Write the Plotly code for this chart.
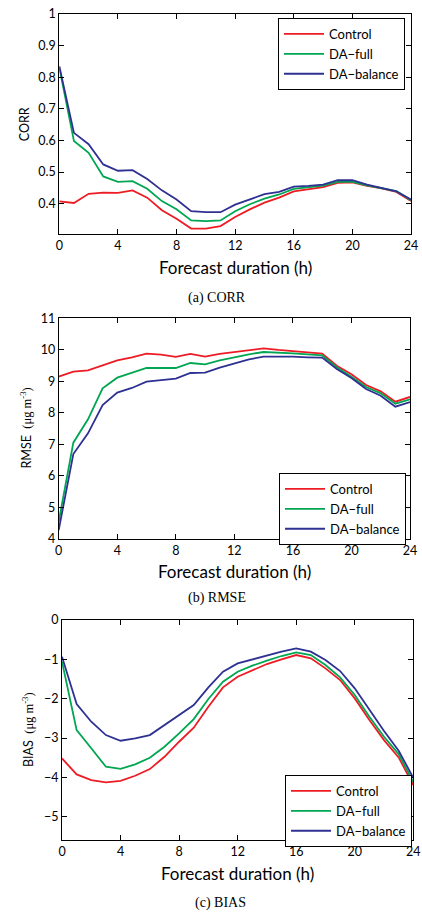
import plotly.graph_objects as go

hours = list(range(25))
x_ticks = [0, 4, 8, 12, 16, 20, 24]

corr_control = [0.407, 0.402, 0.431, 0.435, 0.434, 0.442, 0.419, 0.379, 0.352, 0.321, 0.321, 0.329, 0.358,
                0.382, 0.403, 0.419, 0.439, 0.445, 0.452, 0.466, 0.467, 0.456, 0.448, 0.437, 0.408]
corr_full = [0.831, 0.598, 0.561, 0.486, 0.469, 0.471, 0.447, 0.408, 0.382, 0.347, 0.345, 0.347, 0.376,
             0.398, 0.416, 0.429, 0.447, 0.451, 0.457, 0.469, 0.469, 0.458, 0.450, 0.440, 0.411]
corr_balance = [0.835, 0.624, 0.588, 0.524, 0.504, 0.506, 0.478, 0.442, 0.413, 0.376, 0.373, 0.373, 0.397,
                0.413, 0.430, 0.437, 0.454, 0.456, 0.460, 0.474, 0.474, 0.460, 0.450, 0.439, 0.413]

rmse_control = [9.147, 9.306, 9.348, 9.507, 9.666, 9.761, 9.877, 9.846, 9.772, 9.867, 9.782, 9.867, 9.920,
                9.983, 10.047, 9.994, 9.952, 9.909, 9.877, 9.496, 9.221, 8.882, 8.681, 8.353, 8.501]
rmse_full = [4.540, 7.050, 7.791, 8.776, 9.115, 9.263, 9.422, 9.422, 9.422, 9.581, 9.539, 9.666, 9.772,
             9.856, 9.930, 9.920, 9.888, 9.856, 9.825, 9.443, 9.147, 8.818, 8.617, 8.289, 8.427]
rmse_balance = [4.275, 6.690, 7.347, 8.247, 8.638, 8.787, 8.988, 9.030, 9.083, 9.263, 9.274, 9.433, 9.570,
                9.697, 9.782, 9.793, 9.782, 9.761, 9.750, 9.390, 9.104, 8.755, 8.543, 8.194, 8.342]

bias_control = [-3.517, -3.924, -4.068, -4.127, -4.085, -3.958, -3.788, -3.475, -3.093, -2.737, -2.203, -1.712, -1.441,
                -1.271, -1.119, -1.000, -0.890, -0.975, -1.229, -1.525, -1.992, -2.542, -3.051, -3.492, -4.195]
bias_full = [-1.059, -2.797, -3.260, -3.729, -3.780, -3.669, -3.500, -3.220, -2.881, -2.517, -2.008, -1.568, -1.314,
             -1.161, -1.034, -0.915, -0.822, -0.890, -1.144, -1.458, -1.907, -2.458, -2.966, -3.407, -4.110]
bias_balance = [-0.932, -2.136, -2.585, -2.924, -3.068, -3.008, -2.924, -2.669, -2.415, -2.161, -1.712, -1.314, -1.102,
                -1.000, -0.890, -0.805, -0.720, -0.805, -1.017, -1.297, -1.737, -2.288, -2.822, -3.322, -4.008]

series_names = ["Control", "DA\u2212full", "DA\u2212balance"]
colors = ["#ed1c24", "#00a651", "#2e3192"]

W, H = 422, 914
FONT = "Lato, 'Open Sans', sans-serif"
SERIF = "'Liberation Serif', 'Times New Roman', serif"

# panel boxes in pixels: (left, right, top, bottom)
boxes = [(59.3, 411.0, 14.0, 234.3), (58.7, 410.0, 318.3, 538.7), (62.0, 413.3, 620.0, 840.0)]
yranges = [[0.303, 1.0], [4, 11], [-5.59, 0]]
yticks = [[0.4, 0.5, 0.6, 0.7, 0.8, 0.9, 1.0], list(range(4, 12)), [-5, -4, -3, -2, -1, 0]]
yticktext = [["0.4", "0.5", "0.6", "0.7", "0.8", "0.9", "1"], [str(v) for v in range(4, 12)],
             ["\u22125", "\u22124", "\u22123", "\u22122", "\u22121", "0"]]
data_sets = [(corr_control, corr_full, corr_balance), (rmse_control, rmse_full, rmse_balance),
             (bias_control, bias_full, bias_balance)]
legend_boxes = [(405, 18), (406, 473), (412, 775)]  # right, top
captions = [("(a) CORR", 217, 298), ("(b) RMSE", 217, 598), ("(c) BIAS", 220, 903)]
ytitles = [("CORR", 24),
           ("RMSE  <span style=\"font-family:'Liberation Serif'\">(\u03bcg m<sup>-3</sup>)</span>", 25),
           ("BIAS  <span style=\"font-family:'Liberation Serif'\">(\u03bcg m<sup>-3</sup>)</span>", 28)]

fig = go.Figure()
layout = dict(template="none", width=W, height=H, margin=dict(l=0, r=0, t=0, b=0), paper_bgcolor="white",
              plot_bgcolor="white", font=dict(family=FONT, size=12, color="black"), annotations=[])

for i in range(3):
    sfx = "" if i == 0 else str(i + 1)
    l, r, t, b = boxes[i]
    for j in range(3):
        fig.add_trace(go.Scatter(x=hours, y=data_sets[i][j], mode="lines", name=series_names[j],
                                 line=dict(color=colors[j], width=1.8),
                                 xaxis="x" + sfx, yaxis="y" + sfx,
                                 legend="legend" + sfx, showlegend=True))
    axis_common = dict(showline=True, linecolor="black", linewidth=1, mirror="ticks",
                       ticks="inside", ticklen=5, tickcolor="black", tickwidth=1, automargin=False,
                       showgrid=False, zeroline=False, tickfont=dict(size=12.5, family=FONT))
    layout["xaxis" + sfx] = dict(domain=[l / W, r / W], range=[0, 24], tickvals=x_ticks,
                                 anchor="y" + sfx, **axis_common)
    layout["yaxis" + sfx] = dict(domain=[1 - b / H, 1 - t / H], range=yranges[i], tickvals=yticks[i],
                                 ticktext=yticktext[i], anchor="x" + sfx, **axis_common)
    lr, lt = legend_boxes[i]
    layout["legend" + sfx] = dict(x=lr / W, y=1 - lt / H, xanchor="right", yanchor="top",
                                  bordercolor="black", borderwidth=1, bgcolor="white", itemwidth=40,
                                  font=dict(size=13, family=FONT), tracegroupgap=0)
    layout["annotations"].append(dict(text="Forecast duration (h)", x=(l + r) / 2 / W,
                                      y=1 - (b + 33) / H, xref="paper", yref="paper",
                                      xanchor="center", yanchor="middle",
                                      showarrow=False, font=dict(size=17, family=FONT)))
    cap, cx, cy = captions[i]
    layout["annotations"].append(dict(text=cap, x=cx / W, y=1 - cy / H, xref="paper", yref="paper",
                                      xanchor="center", yanchor="middle",
                                      showarrow=False, font=dict(size=14, family=SERIF)))
    yt, yx = ytitles[i]
    layout["annotations"].append(dict(text=yt, x=yx / W, y=1 - (t + b) / 2 / H, xref="paper", yref="paper",
                                      xanchor="center", yanchor="middle",
                                      textangle=-90, showarrow=False, font=dict(size=12.5, family=FONT)))

fig.update_layout(**layout)
fig.write_html("out.html", config={"displayModeBar": False},
               post_script="document.body.style.margin='0';")
